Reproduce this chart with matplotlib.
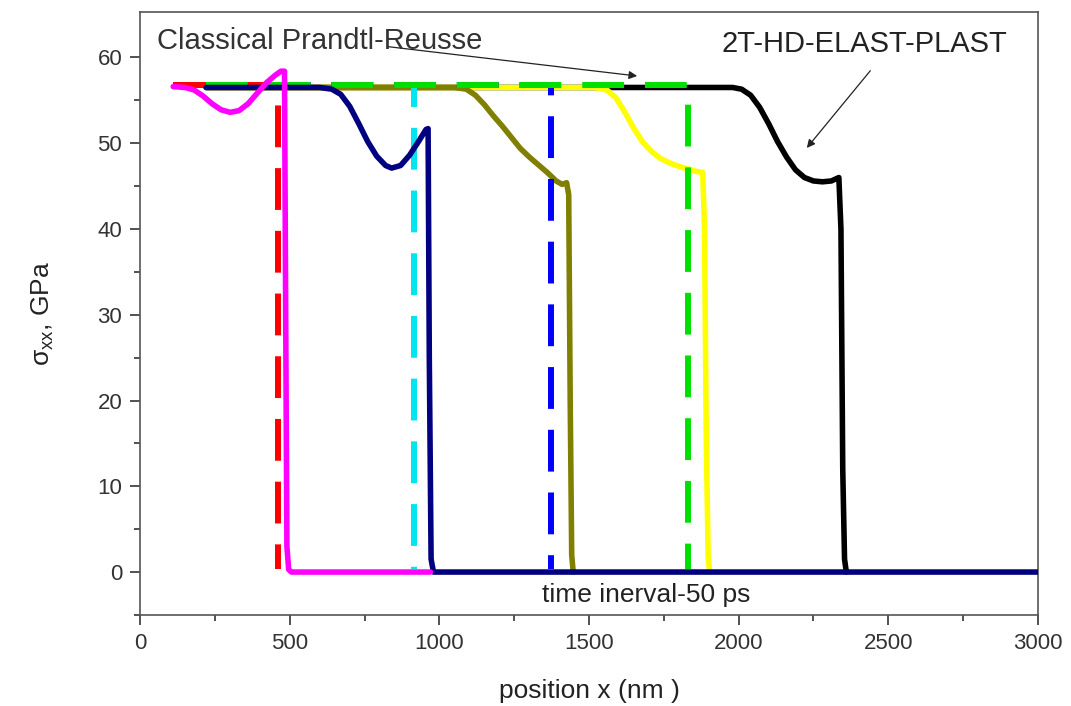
import numpy as np
import matplotlib
matplotlib.use("Agg")
import matplotlib.pyplot as plt

plt.rcParams['font.family'] = ['Liberation Sans', 'DejaVu Sans']

# solid curves (2T-HD-ELAST-PLAST), position in nm, stress in GPa
mag_x = [110, 150, 180, 210, 240, 270, 300, 330, 360, 390, 420, 450, 470, 482, 486, 490, 496, 505, 970]
mag_y = [56.6, 56.5, 56.2, 55.5, 54.6, 53.9, 53.6, 53.8, 54.6, 55.8, 57.0, 57.9, 58.4, 58.4, 30.0, 3.0, 0.3, 0.0, 0.0]

navy_x = [220, 400, 600, 640, 670, 700, 730, 760, 790, 820, 840, 870, 900, 930, 955, 962, 966, 972, 980, 3000]
navy_y = [56.5, 56.5, 56.5, 56.3, 55.7, 54.3, 52.3, 50.2, 48.5, 47.4, 47.1, 47.4, 48.6, 50.2, 51.6, 51.7, 25.0, 1.5, 0.0, 0.0]

olive_x = [220, 1050, 1090, 1120, 1150, 1180, 1210, 1240, 1270, 1300, 1330, 1360, 1390, 1410, 1425, 1432, 1437, 1442, 1447]
olive_y = [56.5, 56.5, 56.3, 55.6, 54.5, 53.2, 52.0, 50.7, 49.4, 48.4, 47.5, 46.6, 45.6, 45.2, 45.4, 44.0, 20.0, 2.0, 0.0]

yel_x = [220, 1520, 1560, 1590, 1620, 1650, 1680, 1710, 1740, 1770, 1800, 1830, 1860, 1880, 1886, 1892, 1898, 1903]
yel_y = [56.5, 56.5, 56.2, 55.3, 53.6, 51.7, 50.1, 49.0, 48.2, 47.7, 47.3, 47.0, 46.7, 46.6, 40.0, 15.0, 2.0, 0.0]

blk_x = [220, 1980, 2010, 2040, 2070, 2100, 2130, 2160, 2190, 2220, 2250, 2280, 2310, 2335, 2342, 2348, 2354, 2360]
blk_y = [56.5, 56.5, 56.3, 55.6, 54.2, 52.3, 50.2, 48.4, 46.9, 46.0, 45.6, 45.5, 45.6, 46.0, 40.0, 12.0, 1.5, 0.0]

# dashed curves (Classical Prandtl-Reusse): flat level then drop at front position
cl_level = 56.8
cl_start = [110, 220, 220, 220]
cl_front = [460, 915, 1372, 1830]
cl_colors = ['#ff0000', '#00e5ee', '#0000ff', '#00e000']

fig = plt.figure(figsize=(10.71, 7.06), dpi=100)
ax = fig.add_axes([0.131, 0.129, 0.838, 0.854])

lw = 4.0
for x0, xf, c in zip(cl_start, cl_front, cl_colors):
    ax.plot([x0, xf, xf], [cl_level, cl_level, 0.3], color=c, lw=lw + 0.3,
            ls=(0, (7, 3.5)), solid_capstyle='butt', zorder=3)

for xs, ys, c, z in [(blk_x, blk_y, 'black', 2), (yel_x, yel_y, '#ffff00', 2),
                     (olive_x, olive_y, '#808000', 2), (navy_x, navy_y, '#000080', 4),
                     (mag_x, mag_y, '#ff00ff', 4)]:
    ax.plot(xs, ys, color=c, lw=lw, zorder=z, solid_joinstyle='round', solid_capstyle='round')

ax.set_xlim(0, 3000)
ax.set_ylim(-5, 65.3)
ax.set_xticks(np.arange(0, 3001, 500))
ax.set_xticks(np.arange(0, 3001, 250), minor=True)
ax.set_yticks(np.arange(0, 61, 10))
ax.set_yticks(np.arange(-5, 61, 5), minor=True)
ax.tick_params(which='major', direction='out', length=7, width=1.2, labelsize=16,
               colors='#333333', pad=6)
ax.tick_params(which='minor', direction='out', length=4, width=1.2, colors='#333333')
for s in ax.spines.values():
    s.set_color('#555555')
    s.set_linewidth(1.2)

ax.set_xlabel('position x (nm )', fontsize=19, color='#222222', labelpad=18)
ax.set_ylabel(r'$\mathregular{\sigma_{xx}}$, GPa', fontsize=19, color='#222222', labelpad=30)

ax.annotate('', xy=(1670, 57.8), xytext=(818, 61.3),
            arrowprops=dict(arrowstyle='-|>', color='#222222', lw=0.9, mutation_scale=12))
ax.text(55, 61.9, 'Classical Prandtl-Reusse', fontsize=21, color='#333333',
        va='center', ha='left')
ax.annotate('', xy=(2222, 49.2), xytext=(2446, 58.7),
            arrowprops=dict(arrowstyle='-|>', color='#222222', lw=0.9, mutation_scale=12))
ax.text(2420, 61.6, '2T-HD-ELAST-PLAST', fontsize=21, color='#222222',
        va='center', ha='center')
ax.text(1690, -2.7, 'time inerval-50 ps', fontsize=19, color='#222222',
        va='center', ha='center')

fig.savefig('out.png', dpi=100)
